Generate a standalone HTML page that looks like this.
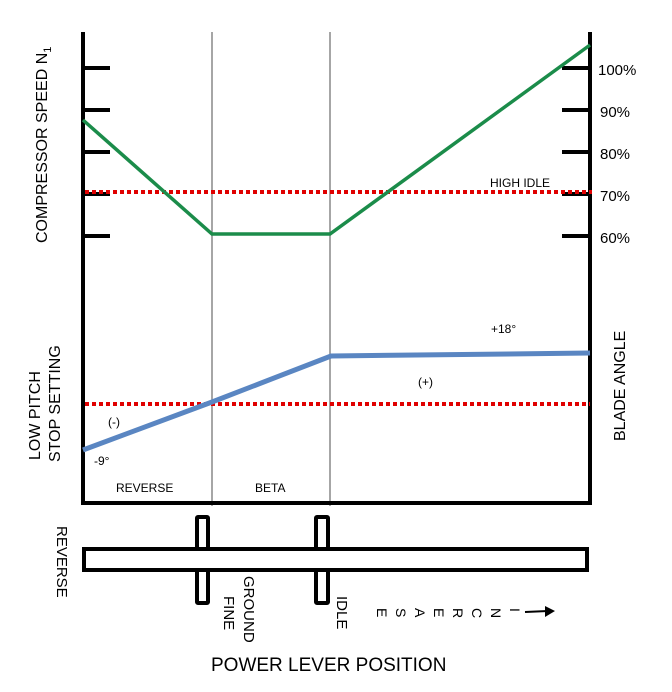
<!DOCTYPE html>
<html><head><style>
body{margin:0;background:#fff;}
svg{display:block;font-family:"Liberation Sans",sans-serif;}
</style></head><body>
<svg width="672" height="692" viewBox="0 0 672 692">
<g stroke="#888" stroke-width="1.5">
<line x1="212" y1="32" x2="212" y2="506"/>
<line x1="330" y1="32" x2="330" y2="506"/>
</g>
<g stroke="#000" stroke-width="4">
<line x1="83" y1="32" x2="83" y2="505"/>
<line x1="590" y1="32" x2="590" y2="505"/>
<line x1="81" y1="503" x2="592" y2="503"/>
<line x1="83" y1="68" x2="110" y2="68"/><line x1="83" y1="110" x2="110" y2="110"/>
<line x1="83" y1="152" x2="110" y2="152"/><line x1="83" y1="194" x2="110" y2="194"/>
<line x1="83" y1="236" x2="110" y2="236"/>
<line x1="562" y1="68" x2="590" y2="68"/><line x1="562" y1="110" x2="590" y2="110"/>
<line x1="562" y1="152" x2="590" y2="152"/><line x1="562" y1="194" x2="590" y2="194"/>
<line x1="562" y1="236" x2="590" y2="236"/>
</g>
<g stroke="#e00000" stroke-width="4" stroke-dasharray="4,3">
<line x1="85" y1="192" x2="592" y2="192"/>
<line x1="85" y1="404" x2="590" y2="404"/>
</g>
<polyline points="83,120 212,234 330,234 590,45" fill="none" stroke="#1b8c4a" stroke-width="3.5"/>
<polyline points="83,450 212,402 331,356 590,353" fill="none" stroke="#5a86c2" stroke-width="5"/>
<g font-size="15" fill="#000">
<text x="598" y="75">100%</text><text x="600" y="117">90%</text>
<text x="600" y="159">80%</text><text x="600" y="201">70%</text>
<text x="600" y="243">60%</text>
</g>
<g font-size="12" fill="#000">
<text x="490" y="187">HIGH IDLE</text>
<text x="491" y="333">+18°</text>
<text x="418" y="386">(+)</text>
<text x="108" y="426">(-)</text>
<text x="94" y="465">-9°</text>
<text x="116" y="492">REVERSE</text>
<text x="255" y="492">BETA</text>
</g>
<g font-size="16" fill="#000">
<text transform="translate(47,243) rotate(-90)">COMPRESSOR SPEED N<tspan font-size="11" dy="4">1</tspan></text>
<text transform="translate(40,460) rotate(-90)">LOW PITCH</text>
<text transform="translate(60,462) rotate(-90)">STOP SETTING</text>
<text transform="translate(625,441) rotate(-90)">BLADE ANGLE</text>
<text transform="translate(57,526) rotate(90)" font-size="15">REVERSE</text>
<text transform="translate(244,576) rotate(90)" font-size="15">GROUND</text>
<text transform="translate(224,596) rotate(90)" font-size="15">FINE</text>
<text transform="translate(337,596) rotate(90)" font-size="15">IDLE</text>
<text x="211" y="671" font-size="19">POWER LEVER POSITION</text>
</g>
<g font-size="14" fill="#000">
<text transform="translate(377,608) rotate(90)">E</text>
<text transform="translate(396,608) rotate(90)">S</text>
<text transform="translate(415,608) rotate(90)">A</text>
<text transform="translate(434,608) rotate(90)">E</text>
<text transform="translate(453,608) rotate(90)">R</text>
<text transform="translate(472,608) rotate(90)">C</text>
<text transform="translate(491,608) rotate(90)">N</text>
<text transform="translate(510,608) rotate(90)">I</text>
</g>
<line x1="525" y1="612" x2="548" y2="611" stroke="#000" stroke-width="2"/>
<polygon points="555,611 545,606 545,617" fill="#000"/>
<g fill="#fff" stroke="#000" stroke-width="4">
<rect x="197" y="517" width="11" height="86" rx="1"/>
<rect x="316" y="517" width="12" height="86" rx="1"/>
<rect x="84" y="549" width="503" height="21"/>
</g>
<g fill="#fff">
<rect x="199" y="551" width="7" height="17"/>
<rect x="318" y="551" width="8" height="17"/>
</g>
</svg>
</body></html>
